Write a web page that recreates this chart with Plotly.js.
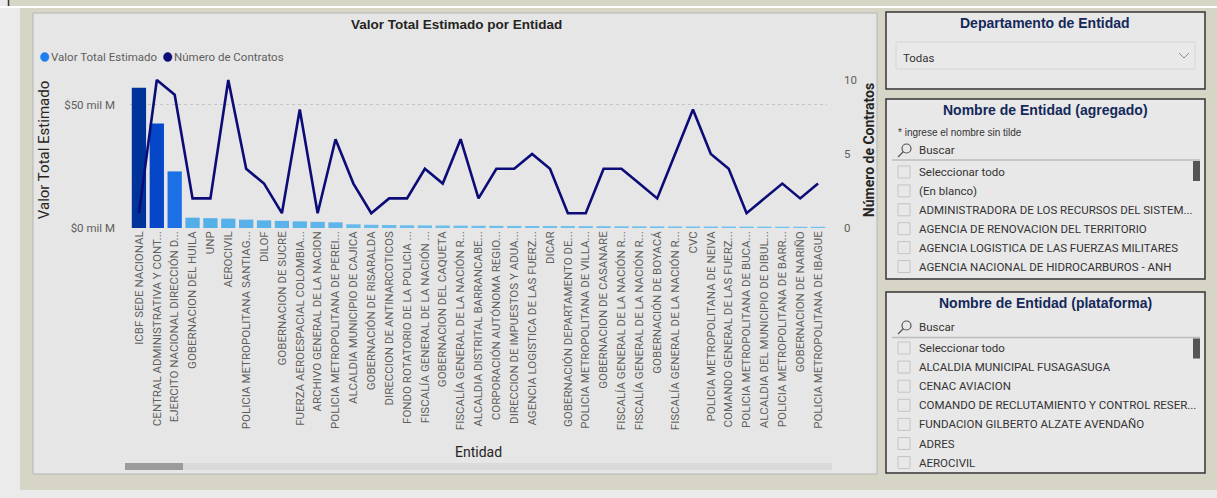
<!DOCTYPE html>
<html>
<head>
<meta charset="utf-8">
<script src="https://cdn.plot.ly/plotly-3.0.1.min.js"></script>
<style>
html,body{margin:0;padding:0;background:#ebebeb;}
#chart{width:1217px;height:498px;}
</style>
</head>
<body>
<div id="chart"></div>
<script>
// ---------------- DATA ----------------
const entidades = [
  "ICBF SEDE NACIONAL",
  "CENTRAL ADMINISTRATIVA Y CONT...",
  "EJERCITO NACIONAL DIRECCIÓN D...",
  "GOBERNACION DEL HUILA",
  "UNP",
  "AEROCIVIL",
  "POLICIA METROPOLITANA SANTIAG...",
  "DILOF",
  "GOBERNACION DE SUCRE",
  "FUERZA AEROESPACIAL COLOMBIA...",
  "ARCHIVO GENERAL DE LA NACION",
  "POLICIA METROPOLITANA DE PEREI...",
  "ALCALDIA MUNICIPIO DE CAJICA",
  "GOBERNACIÓN DE RISARALDA",
  "DIRECCION DE ANTINARCOTICOS",
  "FONDO ROTATORIO DE LA POLICIA ...",
  "FISCALÍA GENERAL DE LA NACIÓN ...",
  "GOBERNACION DEL CAQUETA",
  "FISCALÍA GENERAL DE LA NACIÓN R...",
  "ALCALDIA DISTRITAL BARRANCABE...",
  "CORPORACIÓN AUTÓNOMA REGIO...",
  "DIRECCION DE IMPUESTOS Y ADUA...",
  "AGENCIA LOGISTICA DE LAS FUERZ...",
  "DICAR",
  "GOBERNACIÓN DEPARTAMENTO DE...",
  "POLICIA METROPOLITANA DE VILLA...",
  "GOBERNACION DE CASANARE",
  "FISCALÍA GENERAL DE LA NACIÓN R...",
  "FISCALÍA GENERAL DE LA NACIÓN R...",
  "GOBERNACIÓN DE BOYACÁ",
  "FISCALÍA GENERAL DE LA NACIÓN R...",
  "CVC",
  "POLICIA METROPOLITANA DE NEIVA",
  "COMANDO GENERAL DE LAS FUERZ...",
  "POLICIA METROPOLITANA DE BUCA...",
  "ALCALDIA DEL MUNICIPIO DE DIBUL...",
  "POLICIA METROPOLITANA DE BARR...",
  "GOBERNACION DE NARIÑO",
  "POLICIA METROPOLITANA DE IBAGUE"
];
// Valor Total Estimado (miles de millones)
const valorTotal = [57, 42.5, 23, 4.2, 4.0, 3.8, 3.4, 3.1, 2.9, 2.7, 2.5, 2.3,
  1.5, 1.3, 1.2, 1.1, 1.05, 1.0, 0.95, 0.9, 0.88, 0.85, 0.82, 0.8, 0.78, 0.75,
  0.73, 0.7, 0.68, 0.66, 0.64, 0.62, 0.6, 0.58, 0.56, 0.54, 0.52, 0.5, 0.48];
// Número de Contratos
const numContratos = [1, 10, 9, 2, 2, 10, 4, 3, 1, 8, 1, 6, 3, 1, 2, 2, 4, 3, 6, 2,
  4, 4, 5, 4, 1, 1, 4, 4, 3, 2, 5, 8, 5, 4, 1, 2, 3, 2, 3];
const valorTickVals = [0, 50];
const valorTickText = ["$0 mil M", "$50 mil M"];
const contratosTickVals = [0, 5, 10];
const legendNames = ["Valor Total Estimado", "Número de Contratos"];

const slicerDepto = ["Todas"];
const slicerAgregado = ["Seleccionar todo", "(En blanco)",
  "ADMINISTRADORA DE LOS RECURSOS DEL SISTEM...",
  "AGENCIA DE RENOVACION DEL TERRITORIO",
  "AGENCIA LOGISTICA DE LAS FUERZAS MILITARES",
  "AGENCIA NACIONAL DE HIDROCARBUROS - ANH"];
const slicerPlataforma = ["Seleccionar todo", "ALCALDIA MUNICIPAL FUSAGASUGA",
  "CENAC AVIACION", "COMANDO DE RECLUTAMIENTO Y CONTROL RESER...",
  "FUNDACION GILBERTO ALZATE AVENDAÑO", "ADRES", "AEROCIVIL"];

// ---------------- GEOMETRY ----------------
const W = 1217, H = 498;
const L = 130, R = 827, T = 72, B = 228;
const fx = x => (x - L) / (R - L);
const fy = y => (B - y) / (B - T);
const idx = entidades.map((_, i) => i);

const shapes = [];
const ann = [];
function rect(x0, y0, x1, y1, fill, line, lw) {
  shapes.push({type: 'rect', xref: 'paper', yref: 'paper', layer: 'below',
    x0: fx(x0), x1: fx(x1), y0: fy(y1), y1: fy(y0),
    fillcolor: fill, line: {color: line || 'rgba(0,0,0,0)', width: lw || 0}});
}
function seg(x0, y0, x1, y1, color, w, dash) {
  shapes.push({type: 'line', xref: 'paper', yref: 'paper', layer: 'below',
    x0: fx(x0), x1: fx(x1), y0: fy(y0), y1: fy(y1),
    line: {color: color, width: w, dash: dash || 'solid'}});
}
function circ(x0, y0, x1, y1, color, w, fill) {
  shapes.push({type: 'circle', xref: 'paper', yref: 'paper', layer: 'below',
    x0: fx(x0), x1: fx(x1), y0: fy(y1), y1: fy(y0),
    fillcolor: fill || 'rgba(0,0,0,0)', line: {color: color, width: w}});
}
function path(pts, color, w) {
  const d = pts.map((p, i) => (i ? 'L ' : 'M ') + fx(p[0]) + ' ' + fy(p[1])).join(' ');
  shapes.push({type: 'path', xref: 'paper', yref: 'paper', layer: 'below', path: d,
    line: {color: color, width: w}});
}
function text(x, y, s, opts) {
  opts = opts || {};
  ann.push({xref: 'paper', yref: 'paper', x: fx(x), y: fy(y), text: s, showarrow: false,
    xanchor: opts.xa || 'left', yanchor: 'middle',
    font: {family: opts.family || 'Roboto, sans-serif', size: opts.size || 12,
      color: opts.color || '#333'}});
}

// page background
rect(20, 8, 1217, 490, '#d7d5c6');
rect(9, 0, 1217, 6, '#d7d5c6');
seg(0, 7, 1217, 7, '#ffffff', 2);
seg(8.5, 0, 8.5, 6, '#333333', 1.5);

// chart card
rect(33, 13, 877, 474, '#e6e6e6', '#b4b4b4', 1);

// scrollbar
rect(125, 463, 832, 470, '#dadada');
rect(125, 463, 183, 470, '#9b9b9b');

// chart title + legend
text(456, 25, '<b>Valor Total Estimado por Entidad</b>', {xa: 'center', size: 13.5, color: '#252423', family: 'Liberation Sans, Arial, sans-serif'});
circ(40.5, 52.5, 49, 61.5, '#1f7fee', 0.5, '#1f7fee');
text(49, 57, legendNames[0], {size: 11.5, color: '#605e5c'});
circ(163.5, 52.5, 172, 61.5, '#0c0c78', 0.5, '#0c0c78');
text(172, 57, legendNames[1], {size: 11.5, color: '#605e5c'});

// slicer panels
const titleFont = 'Liberation Sans, Arial, sans-serif';
const titleColor = '#14285a';
rect(886, 12, 1205, 89, '#e8e8e8', '#333333', 1.5);
text(1045, 23, '<b>Departamento de Entidad</b>', {xa: 'center', size: 14, color: titleColor, family: titleFont});
rect(896, 42, 1195, 69, '#e9e9e9', '#d6d6d6', 1);
text(901, 58, slicerDepto[0], {size: 11.5, color: '#333'});
path([[1179, 53], [1184, 58], [1189, 53]], '#8a8a8a', 1);

function listPanel(y0, y1, title, yTitle, hint, yBuscar, ySep, items, yItem0, step) {
  rect(886, y0, 1205, y1, '#e8e8e8', '#333333', 1.5);
  text(1045, yTitle, '<b>' + title + '</b>', {xa: 'center', size: 14, color: titleColor, family: titleFont});
  if (hint) text(896, hint, '* ingrese el nombre sin tilde', {size: 10, color: '#333', family: 'Liberation Sans Narrow, Liberation Sans, Arial, sans-serif'});
  circ(902, yBuscar - 6, 911, yBuscar + 3, '#555', 1.2);
  seg(903.5, yBuscar + 1.5, 898, yBuscar + 7, '#555', 1.3);
  text(917, yBuscar, 'Buscar', {size: 11.5, color: '#333'});
  seg(892, ySep, 1200, ySep, '#bcbcbc', 1.5);
  rect(1193, ySep + 1, 1200, ySep + 21, '#555555');
  items.forEach((s, i) => {
    const cy = yItem0 + i * step;
    rect(898, cy - 6, 910, cy + 6, 'rgba(0,0,0,0)', '#c4c4c4', 1);
    text(917, cy, s, {size: 11.5, color: '#333'});
  });
}
listPanel(99, 279, 'Nombre de Entidad (agregado)', 110, 132, 150, 160, slicerAgregado, 172, 18.9);
listPanel(292, 473, 'Nombre de Entidad (plataforma)', 303, null, 327, 337.5, slicerPlataforma, 348, 19.1);

// ---------------- TRACES ----------------
const barTrace = {
  type: 'bar', name: legendNames[0], x: idx, y: valorTotal, yaxis: 'y',
  marker: {color: valorTotal, cmin: 0, cmax: 57,
    colorscale: [[0, '#74c4f0'], [0.04, '#5db5ea'], [0.08, '#52aee8'], [0.4, '#1c6fe6'], [0.75, '#0645c8'], [1, '#003399']],
    line: {width: 0}},
  hoverinfo: 'skip'
};
const lineTrace = {
  type: 'scatter', mode: 'lines', name: legendNames[1], x: idx, y: numContratos, yaxis: 'y2',
  line: {color: '#0c0c78', width: 2.6}, hoverinfo: 'skip'
};

const layout = {
  width: W, height: H,
  margin: {l: L, r: W - R, t: T, b: H - B, pad: 0},
  paper_bgcolor: '#ebebeb', plot_bgcolor: 'rgba(0,0,0,0)',
  showlegend: false, bargap: 0.2,
  font: {family: 'Roboto, sans-serif', color: '#605e5c'},
  xaxis: {range: [-0.5, entidades.length - 0.5], tickvals: idx, ticktext: entidades,
    tickangle: -90, tickfont: {size: 11.5, color: '#605e5c'}, showgrid: false, zeroline: false,
    showline: false, ticks: '', automargin: false,
    title: {text: 'Entidad', font: {size: 14, color: '#252423'}, standoff: 17}},
  yaxis: {range: [0, 63.4], tickvals: valorTickVals, ticktext: valorTickText,
    tickfont: {size: 11.5, color: '#605e5c'}, showgrid: true, gridcolor: '#c4c4c4', griddash: 'dot',
    gridwidth: 1, zeroline: false, showline: false, ticks: '', ticklabelstandoff: 14, automargin: false,
    title: {text: 'Valor Total Estimado', font: {size: 15, color: '#252423'}, standoff: 10}},
  yaxis2: {range: [0, 10.54], overlaying: 'y', side: 'right', tickvals: contratosTickVals,
    tickfont: {size: 11.5, color: '#605e5c'}, showgrid: false, zeroline: false, showline: false,
    ticks: '', ticklabelstandoff: 16, automargin: false,
    title: {text: '<b>Número de Contratos</b>', font: {size: 14, color: '#252423'}, standoff: 8}},
  shapes: shapes, annotations: ann
};

Plotly.newPlot('chart', [barTrace, lineTrace], layout, {staticPlot: true, displayModeBar: false});
</script>
</body>
</html>
